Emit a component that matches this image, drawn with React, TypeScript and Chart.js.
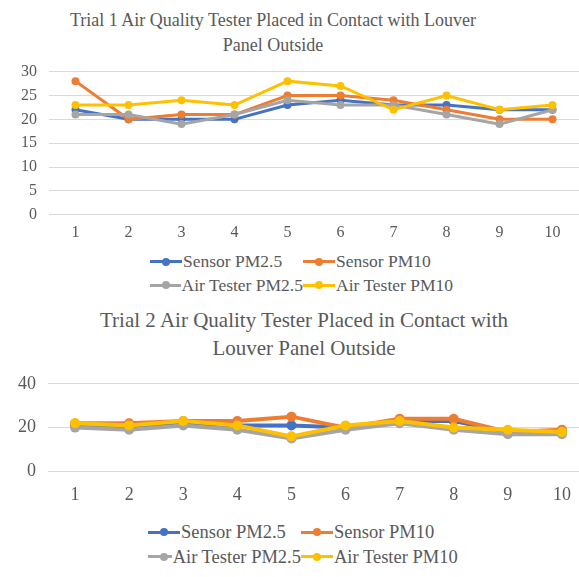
import React, { useEffect, useRef } from "react";
import { Chart, registerables } from "chart.js";
Chart.register(...registerables);

const categories = ["1", "2", "3", "4", "5", "6", "7", "8", "9", "10"];
const seriesNames = ["Sensor PM2.5", "Sensor PM10", "Air Tester PM2.5", "Air Tester PM10"];
const seriesColors = ["#4472C4", "#ED7D31", "#A5A5A5", "#FFC000"];

const t1SensorPM25 = [22, 20, 20, 20, 23, 24, 23, 23, 22, 22];
const t1SensorPM10 = [28, 20, 21, 21, 25, 25, 24, 22, 20, 20];
const t1TesterPM25 = [21, 21, 19, 21, 24, 23, 23, 21, 19, 22];
const t1TesterPM10 = [23, 23, 24, 23, 28, 27, 22, 25, 22, 23];

const t2SensorPM25 = [21, 20, 22, 21, 21, 20, 23, 23, 18, 18];
const t2SensorPM10 = [22, 22, 23, 23, 25, 20, 24, 24, 18, 19];
const t2TesterPM25 = [20, 19, 21, 19, 15, 19, 22, 19, 17, 17];
const t2TesterPM10 = [22, 21, 23, 21, 16, 21, 23, 20, 19, 18];

const title1 = ["Trial 1 Air Quality Tester Placed in Contact with Louver", "Panel Outside"];
const title2 = ["Trial 2 Air Quality Tester Placed in Contact with", "Louver Panel Outside"];

const FONT = "'Liberation Serif', 'Times New Roman', serif";

function LineChart(props: {
  series: number[][];
  max: number;
  count: number;
  lineWidth: number;
  radius: number;
  tickSize: number;
  width: number;
  height: number;
  padding: any;
  xPad: number;
}) {
  const ref = useRef<HTMLCanvasElement>(null);
  useEffect(() => {
    const chart = new Chart(ref.current!, {
      type: "line",
      data: {
        labels: categories,
        datasets: props.series.map((d, i) => ({
          label: seriesNames[i],
          data: d,
          borderColor: seriesColors[i],
          backgroundColor: seriesColors[i],
          borderWidth: props.lineWidth,
          pointRadius: props.radius,
          pointBorderWidth: 0,
          tension: 0,
          order: 4 - i,
        })),
      },
      options: {
        animation: false,
        responsive: false,
        layout: { padding: props.padding },
        plugins: { legend: { display: false }, title: { display: false }, tooltip: { enabled: false } },
        scales: {
          x: {
            offset: true,
            grid: { display: false },
            border: { display: false },
            ticks: { color: "#595959", font: { family: FONT, size: props.tickSize }, padding: props.xPad },
          },
          y: {
            min: 0,
            max: props.max,
            ticks: { count: props.count, color: "#595959", font: { family: FONT, size: props.tickSize }, padding: 12 },
            grid: { color: "#D9D9D9", lineWidth: 1, drawTicks: false },
            border: { display: false },
          },
        },
      },
    });
    return () => chart.destroy();
  }, []);
  return <canvas ref={ref} width={props.width} height={props.height} style={{ display: "block" }} />;
}

function Legend(props: { fontSize: number; rowGap: number; lineW: number }) {
  const item = (i: number) => (
    <div style={{ display: "flex", alignItems: "center" }}>
      <div style={{ position: "relative", width: 32, height: 10, marginRight: 1 }}>
        <div style={{ position: "absolute", left: 0, right: 0, top: 5 - props.lineW / 2, height: props.lineW, background: seriesColors[i] }} />
        <div style={{ position: "absolute", left: 12, top: 1, width: 8, height: 8, borderRadius: 4, background: seriesColors[i] }} />
      </div>
      <span style={{ whiteSpace: "nowrap" }}>{seriesNames[i]}</span>
    </div>
  );
  return (
    <div style={{ display: "grid", gridTemplateColumns: "153px 200px", rowGap: props.rowGap, fontFamily: FONT, fontSize: props.fontSize, color: "#595959", lineHeight: 1 }}>
      {item(0)}
      {item(1)}
      {item(2)}
      {item(3)}
    </div>
  );
}

export default function App() {
  return (
    <div style={{ position: "fixed", left: 0, top: 0, width: 579, height: 577, overflow: "hidden", background: "#fff" }}>
      <div style={{ position: "absolute", top: 8, left: 0, width: 546, textAlign: "center", fontFamily: FONT, fontSize: 18, lineHeight: "25px", color: "#595959" }}>
        {title1.map((t) => <div key={t}>{t}</div>)}
      </div>
      <div style={{ position: "absolute", top: 50, left: 0 }}>
        <LineChart series={[t1SensorPM25, t1SensorPM10, t1TesterPM25, t1TesterPM10]} max={30} count={7} lineWidth={3} radius={4} tickSize={16} width={583} height={192} padding={{ top: 2, right: 0, left: 9, bottom: 0 }} xPad={0} />
      </div>
      <div style={{ position: "absolute", top: 253, left: 150 }}>
        <Legend fontSize={17.5} rowGap={6} lineW={3} />
      </div>
      <div style={{ position: "absolute", top: 306, left: 0, width: 608, textAlign: "center", fontFamily: FONT, fontSize: 21, lineHeight: "28px", color: "#595959" }}>
        {title2.map((t) => <div key={t}>{t}</div>)}
      </div>
      <div style={{ position: "absolute", top: 361, left: 0 }}>
        <LineChart series={[t2SensorPM25, t2SensorPM10, t2TesterPM25, t2TesterPM10]} max={40} count={3} lineWidth={4} radius={5} tickSize={18} width={594} height={150} padding={{ top: 2, right: 0, left: 6, bottom: 0 }} xPad={5} />
      </div>
      <div style={{ position: "absolute", top: 523, left: 148 }}>
        <Legend fontSize={18.5} rowGap={6} lineW={3} />
      </div>
    </div>
  );
}
